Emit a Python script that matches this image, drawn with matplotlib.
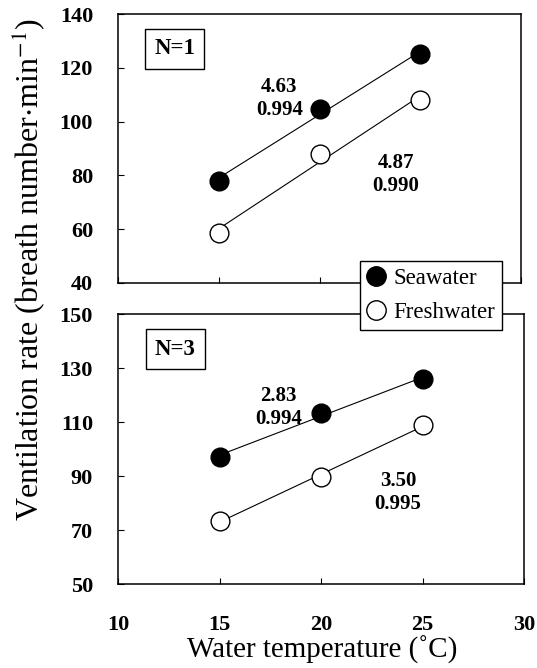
import numpy as np
from matplotlib import pyplot as plt
from matplotlib.lines import Line2D

plt.rcParams['font.family'] = ['Liberation Serif', 'DejaVu Serif']
plt.rcParams['mathtext.fontset'] = 'stix'

temp = [15, 20, 25]

# N=1
sea_n1 = [78.0, 104.7, 125.0]
fresh_n1 = [58.6, 88.0, 108.0]
# N=3
sea_n3 = [97.2, 113.2, 126.0]
fresh_n3 = [73.5, 89.5, 108.9]

stats_n1 = [("4.63\n0.994", 18.0, 108.5), ("4.87\n0.990", 23.8, 80.5)]
stats_n3 = [("2.83\n0.994", 17.9, 115.5), ("3.50\n0.995", 23.8, 84.0)]

fig = plt.figure(figsize=(5.37, 6.68), dpi=100)
ax1 = fig.add_axes([118/537, 1-283/668, 403/537, 269/668])
ax2 = fig.add_axes([118/537, 1-584/668, 406/537, 270/668])


def draw(ax, sea, fresh, stats, label, ylim, yticks):
    x = np.array(temp)
    for vals, face in [(sea, 'black'), (fresh, 'white')]:
        k, b = np.polyfit(x, vals, 1)
        ax.plot(x, k * x + b, color='black', lw=0.8, zorder=2)
        ax.plot(x, vals, 'o', ms=13.5, mfc=face, mec='black', mew=1.0, zorder=3)
    for txt, tx, ty in stats:
        ax.text(tx, ty, txt, ha='center', va='center', fontsize=15,
                fontweight='bold', linespacing=1.2)
    ax.text(0.141, 0.87, label, transform=ax.transAxes, ha='center', va='center',
            fontsize=16.5, fontweight='bold',
            bbox=dict(boxstyle='square,pad=0.4', fc='white', ec='black', lw=1.0))
    ax.set_xlim(10, 30)
    ax.set_ylim(*ylim)
    ax.set_yticks(yticks)
    ax.set_xticks([10, 15, 20, 25, 30])
    ax.tick_params(direction='in', length=4, width=0.8, top=False, right=False)
    ax.tick_params(axis='y', pad=18, labelsize=16)
    ax.tick_params(axis='x', pad=22, labelsize=16)
    for s in ax.spines.values():
        s.set_linewidth(1.1)
    for t in ax.get_yticklabels() + ax.get_xticklabels():
        t.set_fontweight('bold')


draw(ax1, sea_n1, fresh_n1, stats_n1, "N=1", (40, 140), [40, 60, 80, 100, 120, 140])
draw(ax2, sea_n3, fresh_n3, stats_n3, "N=3", (50, 150), [50, 70, 90, 110, 130, 150])
ax1.tick_params(axis='x', labelbottom=False)

fig.text(28/537, 1-270/668, "Ventilation rate (breath number$\\cdot$min$^{-1}$)",
         rotation=90, ha='center', va='center', fontsize=23)
fig.text(322/537, 1-650/668, "Water temperature (\u02daC)", ha='center', va='center',
         fontsize=21)

handles = [Line2D([], [], ls='none', marker='o', ms=14, mfc='black', mec='black'),
           Line2D([], [], ls='none', marker='o', ms=14, mfc='white', mec='black', mew=1.0)]
leg = fig.legend(handles, ["Seawater", "Freshwater"], loc='center',
                 bbox_to_anchor=(431/537, 1-295.5/668), fontsize=16.5, frameon=True,
                 fancybox=False, edgecolor='black', framealpha=1, handlelength=0.8,
                 handletextpad=0.35, borderpad=0.3, labelspacing=0.6, borderaxespad=0)
leg.get_frame().set_linewidth(1.0)
leg.set_zorder(10)

fig.savefig("out.png", dpi=100)
